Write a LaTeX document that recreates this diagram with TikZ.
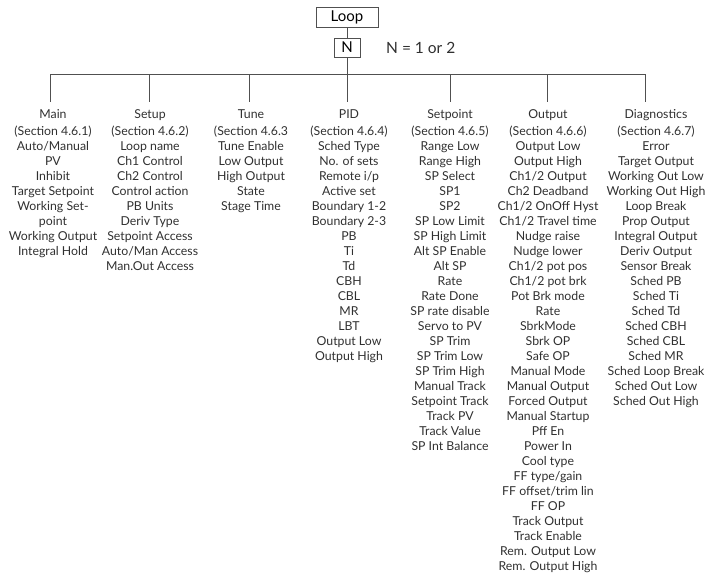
\documentclass[tikz,border=0pt]{standalone}
\usepackage{fontspec}
\setmainfont{Lato}
\usetikzlibrary{positioning}
\definecolor{ink}{RGB}{48, 48, 48}
\definecolor{wire}{RGB}{80, 80, 80}

\tikzset{
  box/.style     = {draw=wire, line width=0.8pt, inner sep=0pt, font=\fontsize{15}{17}\selectfont},
  column/.style  = {anchor=north, align=center, inner xsep=0pt, inner ysep=7.5pt,
                    font=\fontsize{12.3}{15}\selectfont, text=ink},
  branch/.style  = {draw=wire, line width=0.8pt}
}

\begin{document}
\begin{tikzpicture}[x=1pt, y=-1pt]

  \useasboundingbox (0, 0) rectangle (709, 578);

  % top of the tree
  \node[box, minimum width=62pt, minimum height=20pt] (loop) at (347, 17) {Loop};
  \node[box, minimum width=26pt, minimum height=19pt] (n) at (347, 47.5) {N};
  \node[anchor=west, inner sep=0pt, text=ink, font=\fontsize{15.5}{17}\selectfont]
    (nnote) at (386, 48) {N = 1 or 2};

  % the bus the menus hang from
  \coordinate (bmain)  at (50, 74);
  \coordinate (bsetup) at (149, 74);
  \coordinate (btune)  at (249, 74);
  \coordinate (bpid)   at (347, 74);
  \coordinate (bsp)    at (450, 74);
  \coordinate (bout)   at (547, 74);
  \coordinate (bdiag)  at (645, 74);

  % one column per menu
  \node[column] (main) at (53, 102)
    {Main\\[1.5pt](Section 4.6.1)\\[0.5pt]Auto/Manual\\PV\\Inhibit\\Target Setpoint\\Working Set-\\point\\
     Working Output\\Integral Hold};
  \node[column] (setup) at (150, 102)
    {Setup\\[1.5pt](Section 4.6.2)\\[0.5pt]Loop name\\Ch1 Control\\Ch2 Control\\Control action\\PB Units\\
     Deriv Type\\Setpoint Access\\Auto/Man Access\\Man.Out Access};
  \node[column] (tune) at (251, 102)
    {Tune\\[1.5pt](Section 4.6.3\\[0.5pt]Tune Enable\\Low Output\\High Output\\State\\Stage Time};
  \node[column] (pid) at (349, 102)
    {PID\\[1.5pt](Section 4.6.4)\\[0.5pt]Sched Type\\No. of sets\\Remote i/p\\Active set\\Boundary 1-2\\
     Boundary 2-3\\PB\\Ti\\Td\\CBH\\CBL\\MR\\LBT\\Output Low\\Output High};
  \node[column] (sp) at (450, 102)
    {Setpoint\\[1.5pt](Section 4.6.5)\\[0.5pt]Range Low\\Range High\\SP Select\\SP1\\SP2\\SP Low Limit\\
     SP High Limit\\Alt SP Enable\\Alt SP\\Rate\\Rate Done\\SP rate disable\\Servo to PV\\
     SP Trim\\SP Trim Low\\SP Trim High\\Manual Track\\Setpoint Track\\Track PV\\
     Track Value\\SP Int Balance};
  \node[column] (out) at (548, 102)
    {Output\\[1.5pt](Section 4.6.6)\\[0.5pt]Output Low\\Output High\\Ch1/2 Output\\Ch2 Deadband\\
     Ch1/2 OnOff Hyst\\Ch1/2 Travel time\\Nudge raise\\Nudge lower\\Ch1/2 pot pos\\
     Ch1/2 pot brk\\Pot Brk mode\\Rate\\SbrkMode\\Sbrk OP\\Safe OP\\Manual Mode\\
     Manual Output\\Forced Output\\Manual Startup\\Pff En\\Power In\\Cool type\\
     FF type/gain\\FF offset/trim lin\\FF OP\\Track Output\\Track Enable\\
     Rem. Output Low\\Rem. Output High};
  \node[column] (diag) at (656, 102)
    {Diagnostics\\[1.5pt](Section 4.6.7)\\[0.5pt]Error\\Target Output\\Working Out Low\\
     Working Out High\\Loop Break\\Prop Output\\Integral Output\\Deriv Output\\
     Sensor Break\\Sched PB\\Sched Ti\\Sched Td\\Sched CBH\\Sched CBL\\Sched MR\\
     Sched Loop Break\\Sched Out Low\\Sched Out High};

  % connectors
  \draw[branch] (loop) -- (n);
  \draw[branch] (n) -- (bpid);
  \draw[branch] (bmain) -- (bdiag);
  \foreach \b/\c in {bmain/main, bsetup/setup, btune/tune, bpid/pid,
                     bsp/sp, bout/out, bdiag/diag}
    \draw[branch] (\b) -- (\b |- \c.north);

\end{tikzpicture}
\end{document}
